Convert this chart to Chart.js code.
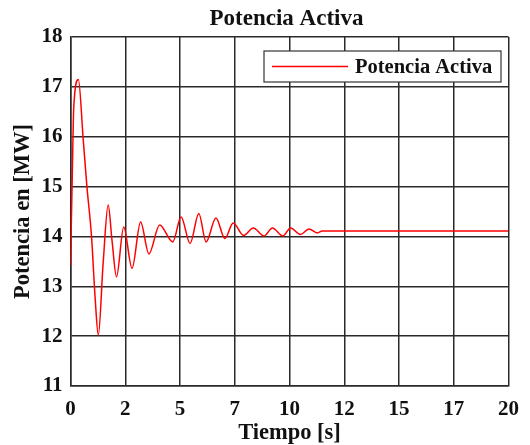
<!DOCTYPE html>
<html>
<head>
<meta charset="utf-8">
<script src="https://cdn.jsdelivr.net/npm/chart.js@4.4.1/dist/chart.umd.min.js"></script>
<style>
  html, body { margin: 0; padding: 0; background: #fff; }
  canvas { display: block; }
</style>
</head>
<body>
<canvas id="chart" width="530" height="445"></canvas>
<script>
// data
const tiempo = [0, 0.08, 0.15, 0.36, 0.58, 0.75, 0.96, 1.12, 1.27, 1.49, 1.72, 1.9, 2.1, 2.43, 2.81,
  3.2, 3.58, 4.07, 4.67, 5.05, 5.46, 5.86, 6.19, 6.64, 7.05, 7.43, 7.9, 8.35, 8.84, 9.22, 9.7,
  10.05, 10.5, 10.89, 11.27, 11.5, 20];
const potencia = [13.4, 15.2, 16.6, 17.15, 15.95, 15.0, 14.0, 12.8, 12.02, 13.46, 14.63, 13.9, 13.19, 14.19, 13.36,
  14.29, 13.65, 14.23, 13.89, 14.39, 13.86, 14.46, 13.89, 14.37, 13.96, 14.27, 14.02, 14.17, 14.01, 14.17, 14.01,
  14.17, 14.04, 14.15, 14.07, 14.11, 14.11];
const serieLabel = 'Potencia Activa';
const titulo = 'Potencia Activa';

const fontFam = "'Liberation Serif', 'Times New Roman', serif";
const gridColor = '#2a2a2a';

// title centred over the plot area (not the whole canvas)
const plotTitle = {
  id: 'plotTitle',
  afterDraw(chart) {
    const ctx = chart.ctx;
    const a = chart.chartArea;
    ctx.save();
    ctx.fillStyle = '#111';
    ctx.font = 'bold 23px ' + fontFam;
    ctx.textAlign = 'center';
    ctx.textBaseline = 'middle';
    ctx.fillText(titulo, (a.left + a.right) / 2 - 3, 19);
    ctx.restore();
  }
};

// legend box drawn in the upper right of the plot, like matlab
const legendBox = {
  id: 'legendBox',
  afterDraw(chart) {
    const ctx = chart.ctx;
    const ds = chart.data.datasets[0];
    const x0 = 264, y0 = 51, w = 237, h = 31;
    ctx.save();
    ctx.fillStyle = '#fff';
    ctx.fillRect(x0, y0, w, h);
    ctx.strokeStyle = '#333';
    ctx.lineWidth = 1.2;
    ctx.strokeRect(x0, y0, w, h);
    ctx.strokeStyle = ds.borderColor;
    ctx.lineWidth = 1.5;
    ctx.beginPath();
    ctx.moveTo(x0 + 8, y0 + h / 2);
    ctx.lineTo(x0 + 84, y0 + h / 2);
    ctx.stroke();
    ctx.fillStyle = '#111';
    ctx.font = 'bold 20.5px ' + fontFam;
    ctx.textBaseline = 'middle';
    ctx.fillText(ds.label, x0 + 91, y0 + h / 2 + 1);
    ctx.restore();
  }
};

const ctx = document.getElementById('chart').getContext('2d');
const chart = new Chart(ctx, {
  type: 'line',
  data: {
    datasets: [{
      label: serieLabel,
      data: tiempo.map((t, i) => ({ x: t, y: potencia[i] })),
      borderColor: '#ff0000',
      borderWidth: 1.5,
      pointRadius: 0,
      cubicInterpolationMode: 'monotone',
      fill: false
    }]
  },
  options: {
    responsive: false,
    animation: false,
    layout: { padding: { left: 0, right: 20, top: 37, bottom: 0 } },
    plugins: {
      legend: { display: false },
      tooltip: { enabled: false },
      title: { display: false }
    },
    scales: {
      x: {
        type: 'linear',
        min: 0,
        max: 20,
        afterFit: (s) => { s.height = 59; },
        grid: { color: gridColor, lineWidth: 1.5, drawTicks: false },
        border: { color: gridColor, width: 1.5 },
        ticks: {
          stepSize: 2.5,
          padding: 11,
          color: '#111',
          font: { family: fontFam, size: 21, weight: 'bold' },
          maxRotation: 0,
          callback: (v) => Math.floor(v)
        },
        title: {
          display: true,
          text: 'Tiempo [s]',
          color: '#111',
          font: { family: fontFam, size: 22.5, weight: 'bold' },
          padding: { top: 0, bottom: -2 }
        }
      },
      y: {
        min: 11,
        max: 18,
        afterFit: (s) => { s.width = 70.5; },
        grid: { color: gridColor, lineWidth: 1.5, drawTicks: false },
        border: { color: gridColor, width: 1.5 },
        ticks: {
          stepSize: 1,
          padding: 8,
          color: '#111',
          font: { family: fontFam, size: 21, weight: 'bold' }
        },
        title: {
          display: true,
          text: 'Potencia en [MW]',
          color: '#111',
          font: { family: fontFam, size: 22.5, weight: 'bold' },
          padding: { top: 10, bottom: 0 }
        }
      }
    }
  },
  plugins: [plotTitle, legendBox]
});
</script>
</body>
</html>
